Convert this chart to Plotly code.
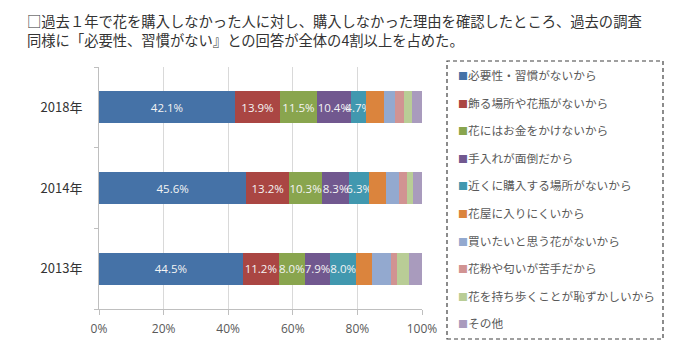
import plotly.graph_objects as go

years = ["2013年", "2014年", "2018年"]
reasons = [
    "必要性・習慣がないから",
    "飾る場所や花瓶がないから",
    "花にはお金をかけないから",
    "手入れが面倒だから",
    "近くに購入する場所がないから",
    "花屋に入りにくいから",
    "買いたいと思う花がないから",
    "花粉や匂いが苦手だから",
    "花を持ち歩くことが恥ずかしいから",
    "その他",
]
# values per reason, ordered as years (2013, 2014, 2018)
v_necessity = [44.5, 45.6, 42.1]
v_place = [11.2, 13.2, 13.9]
v_money = [8.0, 10.3, 11.5]
v_care = [7.9, 8.3, 10.4]
v_nearby = [8.0, 6.3, 4.7]
v_shop = [5.0, 5.2, 5.7]
v_noflower = [5.8, 4.0, 3.3]
v_pollen = [1.8, 2.5, 2.9]
v_shame = [3.8, 1.7, 2.3]
v_other = [4.0, 2.9, 3.2]
series = [v_necessity, v_place, v_money, v_care, v_nearby,
          v_shop, v_noflower, v_pollen, v_shame, v_other]
labelled = [True, True, True, True, True, False, False, False, False, False]
colors = ["#4572A7", "#AA4643", "#89A54E", "#71588F", "#4198AF",
          "#DB843D", "#93A9CF", "#D19392", "#B9CD96", "#A99BBD"]
x_ticks = [0, 20, 40, 60, 80, 100]

title1 = "□過去１年で花を購入しなかった人に対し、購入しなかった理由を確認したところ、過去の調査"
title2 = "同様に「必要性、習慣がない』との回答が全体の4割以上を占めた。"

FONT = "Noto Sans CJK JP"
W, H = 678, 356
L, R, T, B = 99, 256, 67, 47

fig = go.Figure()
for name, vals, lab, col in zip(reasons, series, labelled, colors):
    fig.add_trace(go.Bar(
        y=years, x=vals, orientation="h", name=name,
        marker=dict(color=col, line=dict(width=0)),
        text=[f"{v:.1f}%" for v in vals] if lab else None,
        textposition="inside" if lab else "none",
        insidetextanchor="middle", textangle=0,
        textfont=dict(family="Open Sans", size=11.5, color="#f4f4f4"),
        showlegend=False, hoverinfo="skip",
    ))

for i, (name, col) in enumerate(zip(reasons, colors)):
    fig.add_trace(go.Scatter(
        x=[None], y=[None], mode="markers",
        marker=dict(color="rgba(0,0,0,0)", size=0.1, line=dict(width=0)),
        name=f"<span style='color:{col};font-size:10px'>■</span>{name}",
        legendgroup=f"g{i}", showlegend=True, hoverinfo="skip",
    ))

pw = W - L - R
ph = H - T - B
def px_x(x):
    return (x - L) / pw
def px_y(y):
    return (H - B - y) / ph

fig.add_shape(type="rect", xref="paper", yref="paper",
              x0=px_x(447), x1=px_x(663), y0=px_y(339), y1=px_y(61),
              line=dict(color="#404040", width=1.2, dash="4px,3px"),
              fillcolor="rgba(0,0,0,0)", layer="above")

fig.add_annotation(text=title1, xref="paper", yref="paper",
                   x=px_x(25), y=px_y(20), xanchor="left", yanchor="middle",
                   showarrow=False, font=dict(family=FONT, size=14.3, color="#333333"))
fig.add_annotation(text=title2, xref="paper", yref="paper",
                   x=px_x(25), y=px_y(39.5), xanchor="left", yanchor="middle",
                   showarrow=False, font=dict(family=FONT, size=14.3, color="#333333"))

fig.update_layout(
    width=W, height=H,
    margin=dict(l=L, r=R, t=T, b=B, pad=0, autoexpand=False),
    barmode="stack", bargap=0.6,
    plot_bgcolor="white", paper_bgcolor="white",
    font=dict(family=FONT, color="#404040"),
    uniformtext=dict(mode="show", minsize=11.5),
    legend=dict(
        x=px_x(418), y=px_y(61), xanchor="left", yanchor="top",
        bgcolor="rgba(0,0,0,0)", borderwidth=0,
        traceorder="grouped", tracegroupgap=8.6,
        font=dict(family=FONT, size=11.7, color="#595959"),
    ),
    xaxis=dict(
        range=[0, 100], tickvals=x_ticks, ticktext=[f"{t}%" for t in x_ticks],
        showgrid=True, gridcolor="#d9d9d9", gridwidth=1,
        showline=True, linecolor="#bfbfbf", linewidth=1,
        ticks="outside", ticklen=5, tickcolor="#bfbfbf",
        zeroline=False, fixedrange=True,
        tickfont=dict(family="Open Sans", size=12, color="#595959"),
        ticklabelstandoff=4,
    ),
    yaxis=dict(
        categoryorder="array", categoryarray=years,
        showline=True, linecolor="#bfbfbf", linewidth=1,
        ticks="outside", ticklen=4, tickcolor="#bfbfbf", tickson="boundaries",
        showgrid=False, zeroline=False, fixedrange=True,
        tickfont=dict(family=FONT, size=13, color="#333333"),
        ticklabelstandoff=13,
    ),
)
try:
    fig.update_layout(legend_maxheight=320)
except Exception:
    pass

fig.write_html("out.html", config={"displayModeBar": False, "staticPlot": True},
               post_script="document.body.style.margin='0';")
